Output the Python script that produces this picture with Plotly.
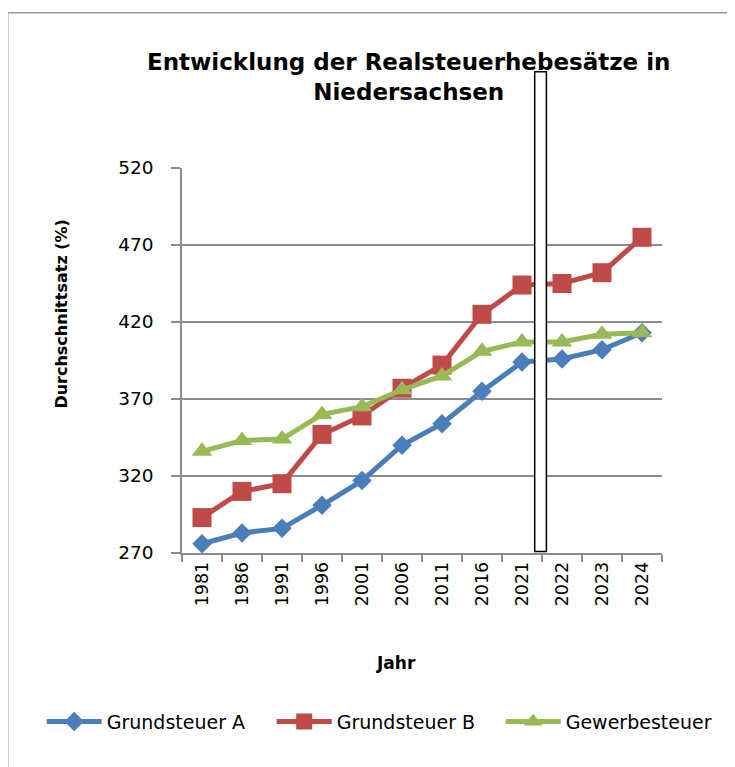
import plotly.graph_objects as go

years = ["1981", "1986", "1991", "1996", "2001", "2006", "2011", "2016", "2021", "2022", "2023", "2024"]
grundsteuer_a = [276, 283, 286, 301, 317, 340, 354, 375, 394, 396, 402, 413]
grundsteuer_b = [293, 310, 315, 347, 359, 377, 392, 425, 444, 445, 452, 475]
gewerbesteuer = [336, 343, 344, 360, 365, 376, 385, 401, 407, 407, 412, 413]
y_ticks = [270, 320, 370, 420, 470, 520]

BLUE = "#4A7EBB"
RED = "#BE4B48"
GREEN = "#98B954"
GRID = "#8c8c8c"
FONT = "DejaVu Sans"

# the page body adds an 8px offset; figure sized to fill the rest of the window
OFF = 8
W, H = 735 - OFF, 767 - OFF
PL, PT, PR, PB = 182.3, 168, 662.3, 553.3   # plot area in window pixels
PW, PH = PR - PL, PB - PT


def px(x):
    return (x - PL) / PW


def py(y):
    return (PB - y) / PH


fig = go.Figure()
fig.add_trace(go.Scatter(x=years, y=grundsteuer_a, name="Grundsteuer A", mode="lines+markers",
                         line=dict(color=BLUE, width=5), legend="legend",
                         marker=dict(symbol="diamond", size=15, color=BLUE)))
fig.add_trace(go.Scatter(x=years, y=grundsteuer_b, name="Grundsteuer B", mode="lines+markers",
                         line=dict(color=RED, width=5), legend="legend2",
                         marker=dict(symbol="square", size=19, color=RED)))
fig.add_trace(go.Scatter(x=years, y=gewerbesteuer, name="Gewerbesteuer", mode="lines+markers",
                         line=dict(color=GREEN, width=5), legend="legend3",
                         marker=dict(symbol="triangle-up", size=18, color=GREEN)))


def leg(x_win):
    return dict(orientation="h", x=px(x_win - 5), y=py(722), xanchor="left", yanchor="middle",
                font=dict(family=FONT, size=19), itemwidth=55,
                bgcolor="rgba(0,0,0,0)")


fig.update_layout(
    width=W, height=H,
    margin=dict(l=PL - OFF, r=735 - PR, t=PT - OFF, b=767 - PB, autoexpand=False),
    paper_bgcolor="white", plot_bgcolor="white",
    font=dict(family=FONT, color="black", size=17),
    showlegend=True,
    legend=leg(47), legend2=leg(277), legend3=leg(506),
    xaxis=dict(type="category", categoryorder="array", categoryarray=years,
               range=[-0.5, 11.5],
               showline=True, linecolor=GRID, linewidth=1.5,
               ticks="outside", tickson="boundaries", ticklen=7, tickcolor=GRID, tickwidth=1.5,
               showgrid=False, tickangle=-90, tickfont=dict(size=17.5, family=FONT)),
    yaxis=dict(range=[270, 520], tickvals=y_ticks, ticktext=[str(v) for v in y_ticks],
               showline=True, linecolor=GRID, linewidth=1.5,
               ticks="outside", ticklen=9, tickcolor=GRID, tickwidth=1.5,
               showgrid=True, gridcolor=GRID, gridwidth=1.5, zeroline=False,
               ticklabelstandoff=14, tickfont=dict(size=18.5, family=FONT)),
)

# Title
fig.add_annotation(text="<b>Entwicklung der Realsteuerhebesätze in<br>Niedersachsen</b>",
                   xref="paper", yref="paper", x=px(409), y=py(77),
                   xanchor="center", yanchor="middle", showarrow=False,
                   font=dict(family=FONT, size=23, color="black"))
# Axis titles
fig.add_annotation(text="<b>Durchschnittsatz (%)</b>", textangle=-90,
                   xref="paper", yref="paper", x=px(62), y=py(314),
                   xanchor="center", yanchor="middle", showarrow=False,
                   font=dict(family=FONT, size=16, color="black"))
fig.add_annotation(text="<b>Jahr</b>",
                   xref="paper", yref="paper", x=px(396), y=py(663),
                   xanchor="center", yanchor="middle", showarrow=False,
                   font=dict(family=FONT, size=17, color="black"))

# Outer chart frame
fig.add_shape(type="rect", xref="paper", yref="paper",
              x0=px(8), x1=px(760), y0=py(800), y1=py(12.7),
              line=dict(color="#9a9a9a", width=1.5), fillcolor="rgba(0,0,0,0)", layer="below")
# Vertical separator box
fig.add_shape(type="rect", xref="paper", yref="paper",
              x0=px(535), x1=px(546.7), y0=py(551.7), y1=py(71.7),
              line=dict(color="black", width=1.5), fillcolor="white", layer="above")

fig.write_html("out.html")
